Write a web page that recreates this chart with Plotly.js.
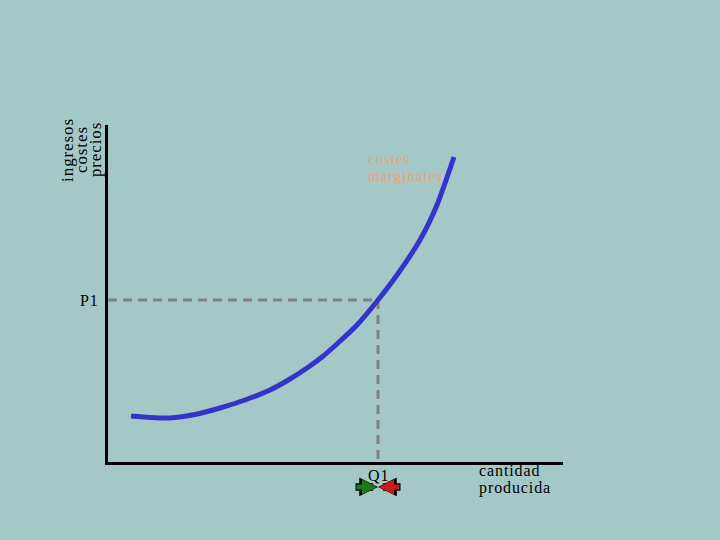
<!DOCTYPE html>
<html><head><meta charset="utf-8">
<script src="https://cdn.plot.ly/plotly-3.0.1.min.js"></script>
<style>html,body{margin:0;padding:0;background:#a4c8c6;}
.annotation-text{letter-spacing:0.9px;}</style>
</head><body>
<div id="chart" style="width:720px;height:540px;"></div>
<script>
// Marginal cost curve (quantity, cost) in chart units
const mcQuantity = [23, 42, 62, 87, 112, 137, 162, 182, 199, 214, 230, 249, 270, 289, 312, 329, 346];
const mcCost     = [46, 44.5, 44, 47.5, 54, 62, 72, 83, 94, 105, 119, 137, 162, 187, 222, 257, 305];
const p1Value = 162;
const q1Value = 270;
const yTickLabels = ['P1'];
const xTickLabels = ['Q1'];
const curveLabelLines = ['costes', 'marginales'];
const yTitleLines = ['ingresos', 'costes', 'precios'];
const xTitleLines = ['cantidad', 'producida'];

const serif = 'Liberation Serif, Times New Roman, serif';

const traces = [
  { x: [0, q1Value], y: [p1Value, p1Value], mode: 'lines',
    line: { color: '#808080', width: 3, dash: '9px,6px' }, hoverinfo: 'skip' },
  { x: [q1Value, q1Value], y: [p1Value, 0], mode: 'lines',
    line: { color: '#808080', width: 3, dash: '9px,6px' }, hoverinfo: 'skip' },
  { x: mcQuantity, y: mcCost, mode: 'lines',
    line: { color: '#3434cc', width: 5, shape: 'spline', smoothing: 0.6 } }
];

const annotations = [];
// curve label (two tight lines)
curveLabelLines.forEach((t, i) => annotations.push({
  text: t, x: 259, y: 303 - i * 17, xref: 'x', yref: 'y', xanchor: 'left', yanchor: 'middle',
  borderpad: 0, showarrow: false, font: { family: serif, size: 15, color: '#f0a078' } }));
// x title
xTitleLines.forEach((t, i) => annotations.push({
  text: t, x: 370, y: 0.002 - i * 0.0505, xref: 'x', yref: 'paper', xanchor: 'left', yanchor: 'top',
  borderpad: 0, showarrow: false, font: { family: serif, size: 16, color: '#000' } }));
// y title (rotated lines)
yTitleLines.forEach((t, i) => annotations.push({
  text: t, x: -0.088 + i * 0.031, y: 0.926, xref: 'paper', yref: 'paper', xanchor: 'center', yanchor: 'middle',
  borderpad: 0, showarrow: false, textangle: -90, font: { family: serif, size: 17, color: '#000' } }));
// tick labels
annotations.push({ text: xTickLabels[0], x: q1Value, y: 0, xref: 'x', yref: 'y', xanchor: 'center', yanchor: 'top',
  yshift: -3, showarrow: false, font: { family: serif, size: 16, color: '#000' } });
annotations.push({ text: yTickLabels[0], x: 0, y: p1Value, xref: 'x', yref: 'y', xanchor: 'right', yanchor: 'middle',
  xshift: -7, showarrow: false, font: { family: serif, size: 16, color: '#000' } });
// arrows pointing to Q1 (black outline underneath)
[[-24, '#1a7a1a'], [24, '#cc1a1a']].forEach(([ax, col]) => {
  annotations.push({ x: q1Value, y: -0.074, xref: 'x', yref: 'paper', ax: ax, ay: 0, text: '', showarrow: true,
    arrowhead: 2, arrowsize: 0.5, arrowwidth: 7.5, arrowcolor: '#000' });
  annotations.push({ x: q1Value, y: -0.074, xref: 'x', yref: 'paper', ax: ax + (ax < 0 ? 1 : -1), ay: 0, text: '', showarrow: true,
    arrowhead: 2, arrowsize: 0.6, arrowwidth: 5, arrowcolor: col, standoff: 1 });
});

const layout = {
  width: 720, height: 540,
  paper_bgcolor: '#a4c8c6', plot_bgcolor: '#a4c8c6',
  showlegend: false,
  margin: { l: 108, r: 157, t: 125, b: 78 },
  xaxis: { range: [0, 455], showgrid: false, zeroline: false, showline: true,
    linecolor: '#000', linewidth: 3, ticks: '', showticklabels: false },
  yaxis: { range: [0, 337], showgrid: false, zeroline: false, showline: true,
    linecolor: '#000', linewidth: 3, ticks: '', showticklabels: false },
  annotations: annotations
};

Plotly.newPlot('chart', traces, layout, { displayModeBar: false, staticPlot: true });
</script>
</body></html>
